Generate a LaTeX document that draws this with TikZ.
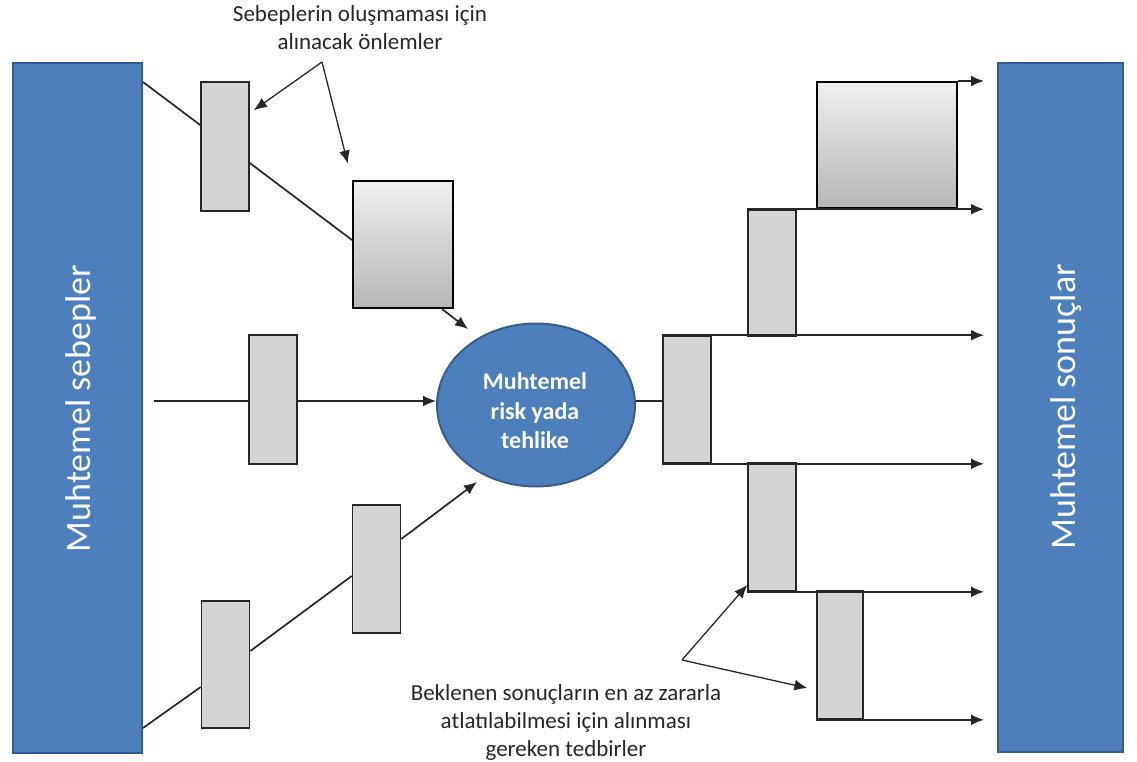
\documentclass[tikz,border=0pt]{standalone}
\usepackage{fontspec}
\setmainfont{Carlito}
\usetikzlibrary{arrows.meta,shapes.geometric}
\definecolor{barblue}{HTML}{4D7FBC}
\definecolor{barline}{HTML}{385D8A}
\definecolor{slabgray}{HTML}{D4D4D4}
\definecolor{ink}{HTML}{262626}
\definecolor{shadetop}{HTML}{EFEFEF}
\definecolor{shadebot}{HTML}{B6B6B6}

\begin{document}
\begin{tikzpicture}[x=1pt,y=-1pt,
  bar/.style={draw=barline, line width=2pt, fill=barblue, inner sep=0pt},
  barlabel/.style={rotate=90, anchor=base, text=white, inner sep=0pt,
    font=\fontsize{36}{40}\selectfont},
  slab/.style={draw=ink, line width=1.6pt, fill=slabgray, inner sep=0pt,
    minimum width=48pt},
  shadebox/.style={draw=black, line width=2pt, top color=shadetop,
    bottom color=shadebot, inner sep=0pt},
  link/.style={draw=ink, line width=1.7pt},
  arr/.style={link, -{Latex[length=13pt,width=11pt]}},
  note/.style={align=center, text=ink, inner sep=0pt,
    font=\fontsize{23}{28}\selectfont}
]
\useasboundingbox (0,0) rectangle (1137,761);

% side bars
\node[bar, minimum width=129pt, minimum height=690pt] (causes) at (77.5,408) {};
\node[barlabel] (causesText) at (90,408.5) {Muhtemel sebepler};
\node[bar, minimum width=125pt, minimum height=689pt] (effects) at (1060.5,407.5) {};
\node[barlabel] (effectsText) at (1075,406.5) {Muhtemel sonuçlar};

% central event and its label
\node[ellipse, draw=barline, line width=2pt, fill=barblue,
      minimum width=198pt, minimum height=163pt, inner sep=0pt] (risk) at (536,405) {};
\node[text=white, align=center, inner sep=0pt,
      font=\bfseries\fontsize{24}{29.5}\selectfont] (riskText) at (535,411)
      {Muhtemel\\risk yada\\tehlike};

% barriers on the cause side
\node[slab, minimum height=129pt] (L1) at (225,146.5) {};
\node[shadebox, minimum width=100pt, minimum height=127pt] (G1) at (403,244.5) {};
\node[slab, minimum height=129pt] (L2) at (273,399.5) {};
\node[slab, minimum height=127pt] (L3) at (225.5,664.5) {};
\node[slab, minimum height=128pt] (L4) at (376.5,569) {};

% barriers on the consequence side
\node[slab, minimum height=127pt] (R0) at (687,399.5) {};
\node[slab, minimum height=126pt] (R1) at (772,273) {};
\node[shadebox, minimum width=140pt, minimum height=126pt] (G2) at (887,145) {};
\node[slab, minimum height=128pt] (R2) at (772,527) {};
\node[slab, minimum height=128pt, minimum width=46pt] (R3) at (840,655) {};

% cause paths
\draw[link] (causes.east |- 0,82) -- (L1.west |- 0,125);
\draw[link] (L1.east |- 0,163) -- (G1.west |- 0,240);
\coordinate (tipA) at (468,329);
\draw[arr] (G1.south -| 442,0) -- (tipA);

\coordinate (midStart) at (154,401);
\draw[link] (midStart) -- (L2.west |- midStart);
\draw[arr] (L2.east |- midStart) -- (risk.west |- midStart);

\draw[link] (causes.east |- 0,728) -- (L3.west |- 0,687);
\draw[link] (L3.east |- 0,651) -- (L4.west |- 0,576);
\coordinate (tipB) at (477,482);
\draw[arr] (L4.east |- 0,539) -- (tipB);

% consequence paths
\coordinate (outX) at (984,0);
\draw[link] (risk.east |- 0,401) -- (R0.west |- 0,401);
\draw[arr] (R0.north west) -- (R0.north west -| outX);
\draw[arr] (R0.south west) -- (R0.south west -| outX);
\draw[arr] (R1.north west) -- (R1.north west -| outX);
\draw[arr] (G2.north east) -- (G2.north east -| outX);
\draw[arr] (R2.south west) -- (R2.south west -| outX);
\draw[arr] (R3.south west) -- (R3.south west -| outX);

% annotations
\node[note] (preventNote) at (360,28) {Sebeplerin oluşmaması için\\alınacak önlemler};
\coordinate (apexA) at (322,62);
\draw[arr, line width=1.3pt, shorten >=5pt] (apexA) -- (L1.east |- 0,113);
\draw[arr, line width=1.3pt, shorten >=17pt] (apexA) -- (G1.north west);

\node[note] (mitigateNote) at (566,722)
  {Beklenen sonuçların en az zararla\\atlatılabilmesi için alınması\\gereken tedbirler};
\coordinate (apexB) at (682,660);
\draw[arr, line width=1.3pt] (apexB) -- (R2.west |- 0,585);
\draw[arr, line width=1.3pt, shorten >=9pt] (apexB) -- (R3.west |- 0,690);
\end{tikzpicture}
\end{document}
